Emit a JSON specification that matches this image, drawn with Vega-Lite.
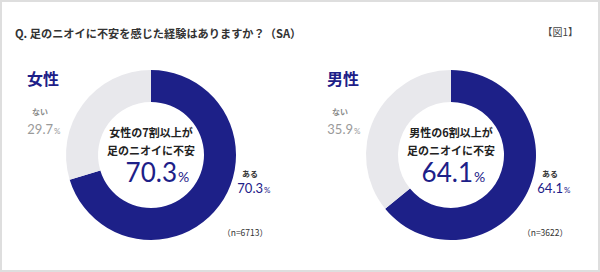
{
  "$schema": "https://vega.github.io/schema/vega-lite/v6.json",
  "width": 600,
  "height": 272,
  "autosize": {"type": "fit", "contains": "padding"},
  "padding": 0,
  "background": "#ffffff",
  "config": {
    "view": {"stroke": "#dedede", "strokeWidth": 4},
    "text": {"font": "Noto Sans CJK JP"}
  },
  "datasets": {
    "donut": [
      {"sex": "女性", "answer": "ある", "value": 70.3},
      {"sex": "女性", "answer": "ない", "value": 29.7},
      {"sex": "男性", "answer": "ある", "value": 64.1},
      {"sex": "男性", "answer": "ない", "value": 35.9}
    ],
    "panel": [
      {"sex": "女性", "n": "（n=6713）", "head1": "女性の7割以上が", "head2": "足のニオイに不安"},
      {"sex": "男性", "n": "（n=3622）", "head1": "男性の6割以上が", "head2": "足のニオイに不安"}
    ],
    "heading": [
      {"sex": "女性", "title": "Q. 足のニオイに不安を感じた経験はありますか？（SA）"}
    ],
    "figure": [
      {"sex": "男性", "label": "【図1】"}
    ]
  },
  "encoding": {
    "x": {"field": "sex", "type": "nominal", "scale": {"type": "point", "padding": 0.5}, "axis": null}
  },
  "layer": [
    {
      "data": {"name": "donut"},
      "transform": [
        {"stack": "value", "groupby": ["sex"], "sort": [{"field": "answer", "order": "ascending"}], "as": ["v0", "v1"]}
      ],
      "mark": {"type": "arc", "radius": 85, "innerRadius": 53, "yOffset": 19, "xOffset": 1},
      "encoding": {
        "theta": {"field": "v0", "type": "quantitative", "scale": {"domain": [0, 100]}},
        "theta2": {"field": "v1"},
        "color": {"field": "answer", "type": "nominal", "scale": {"domain": ["ある", "ない"], "range": ["#1d2088", "#e8e8ec"]}, "legend": null}
      }
    },
    {
      "data": {"name": "heading"},
      "mark": {"type": "text", "align": "left", "baseline": "middle", "dx": -135, "dy": -101, "fontSize": 11.2, "fontWeight": "bold", "fill": "#333333"},
      "encoding": {"text": {"field": "title"}}
    },
    {
      "data": {"name": "figure"},
      "mark": {"type": "text", "align": "right", "baseline": "middle", "dx": 128, "dy": -103, "fontSize": 10, "fill": "#444444"},
      "encoding": {"text": {"field": "label"}}
    },
    {
      "data": {"name": "panel"},
      "mark": {"type": "text", "align": "left", "baseline": "middle", "dx": -123, "dy": -56, "fontSize": 16, "fontWeight": "bold", "fill": "#1d2088"},
      "encoding": {"text": {"field": "sex"}}
    },
    {
      "data": {"name": "panel"},
      "mark": {"type": "text", "align": "center", "baseline": "middle", "dx": 1, "dy": -2, "fontSize": 11, "fontWeight": "bold", "fill": "#222222"},
      "encoding": {"text": {"field": "head1"}}
    },
    {
      "data": {"name": "panel"},
      "mark": {"type": "text", "align": "center", "baseline": "middle", "dx": 1, "dy": 16, "fontSize": 11, "fontWeight": "bold", "fill": "#222222"},
      "encoding": {"text": {"field": "head2"}}
    },
    {
      "data": {"name": "panel"},
      "mark": {"type": "text", "align": "right", "baseline": "middle", "dx": 118, "dy": 97, "fontSize": 8.5, "fill": "#333333"},
      "encoding": {"text": {"field": "n"}}
    },
    {
      "data": {"name": "donut"},
      "transform": [{"filter": "datum.answer === 'ない'"}],
      "layer": [
        {
          "mark": {"type": "text", "align": "center", "baseline": "middle", "dx": -110, "dy": -23, "fontSize": 8, "fontWeight": "bold", "fill": "#8a8a8a"},
          "encoding": {"text": {"field": "answer"}}
        },
        {
          "mark": {"type": "text", "align": "right", "baseline": "alphabetic", "dx": -97, "dy": -2, "fontSize": 13, "font": "Lato", "fill": "#9a9a9a"},
          "encoding": {"text": {"field": "value", "format": ".1f"}}
        },
        {
          "mark": {"type": "text", "align": "left", "baseline": "alphabetic", "dx": -96, "dy": -2, "fontSize": 8, "font": "Lato", "fill": "#9a9a9a", "text": "%"},
          "encoding": {}
        }
      ]
    },
    {
      "data": {"name": "donut"},
      "transform": [{"filter": "datum.answer === 'ある'"}],
      "layer": [
        {
          "mark": {"type": "text", "align": "center", "baseline": "middle", "dx": 100, "dy": 39, "fontSize": 8, "fontWeight": "bold", "fill": "#333333"},
          "encoding": {"text": {"field": "answer"}}
        },
        {
          "mark": {"type": "text", "align": "right", "baseline": "alphabetic", "dx": 113, "dy": 57, "fontSize": 13, "font": "Lato", "fill": "#1d2088"},
          "encoding": {"text": {"field": "value", "format": ".1f"}}
        },
        {
          "mark": {"type": "text", "align": "left", "baseline": "alphabetic", "dx": 114, "dy": 57, "fontSize": 8, "font": "Lato", "fill": "#1d2088", "text": "%"},
          "encoding": {}
        },
        {
          "transform": [{"filter": "datum.sex === '女性'"}],
          "layer": [
            {
              "mark": {"type": "text", "align": "right", "baseline": "alphabetic", "dx": 27, "dy": 46, "fontSize": 26, "font": "Lato", "fill": "#1d2088"},
              "encoding": {"text": {"field": "value", "format": ".1f"}}
            },
            {
              "mark": {"type": "text", "align": "left", "baseline": "alphabetic", "dx": 28, "dy": 46, "fontSize": 14, "font": "Lato", "fill": "#1d2088", "text": "%"},
              "encoding": {}
            }
          ]
        },
        {
          "transform": [{"filter": "datum.sex === '男性'"}],
          "layer": [
            {
              "mark": {"type": "text", "align": "right", "baseline": "alphabetic", "dx": 23, "dy": 46, "fontSize": 26, "font": "Lato", "fill": "#1d2088"},
              "encoding": {"text": {"field": "value", "format": ".1f"}}
            },
            {
              "mark": {"type": "text", "align": "left", "baseline": "alphabetic", "dx": 24, "dy": 46, "fontSize": 14, "font": "Lato", "fill": "#1d2088", "text": "%"},
              "encoding": {}
            }
          ]
        }
      ]
    }
  ]
}
